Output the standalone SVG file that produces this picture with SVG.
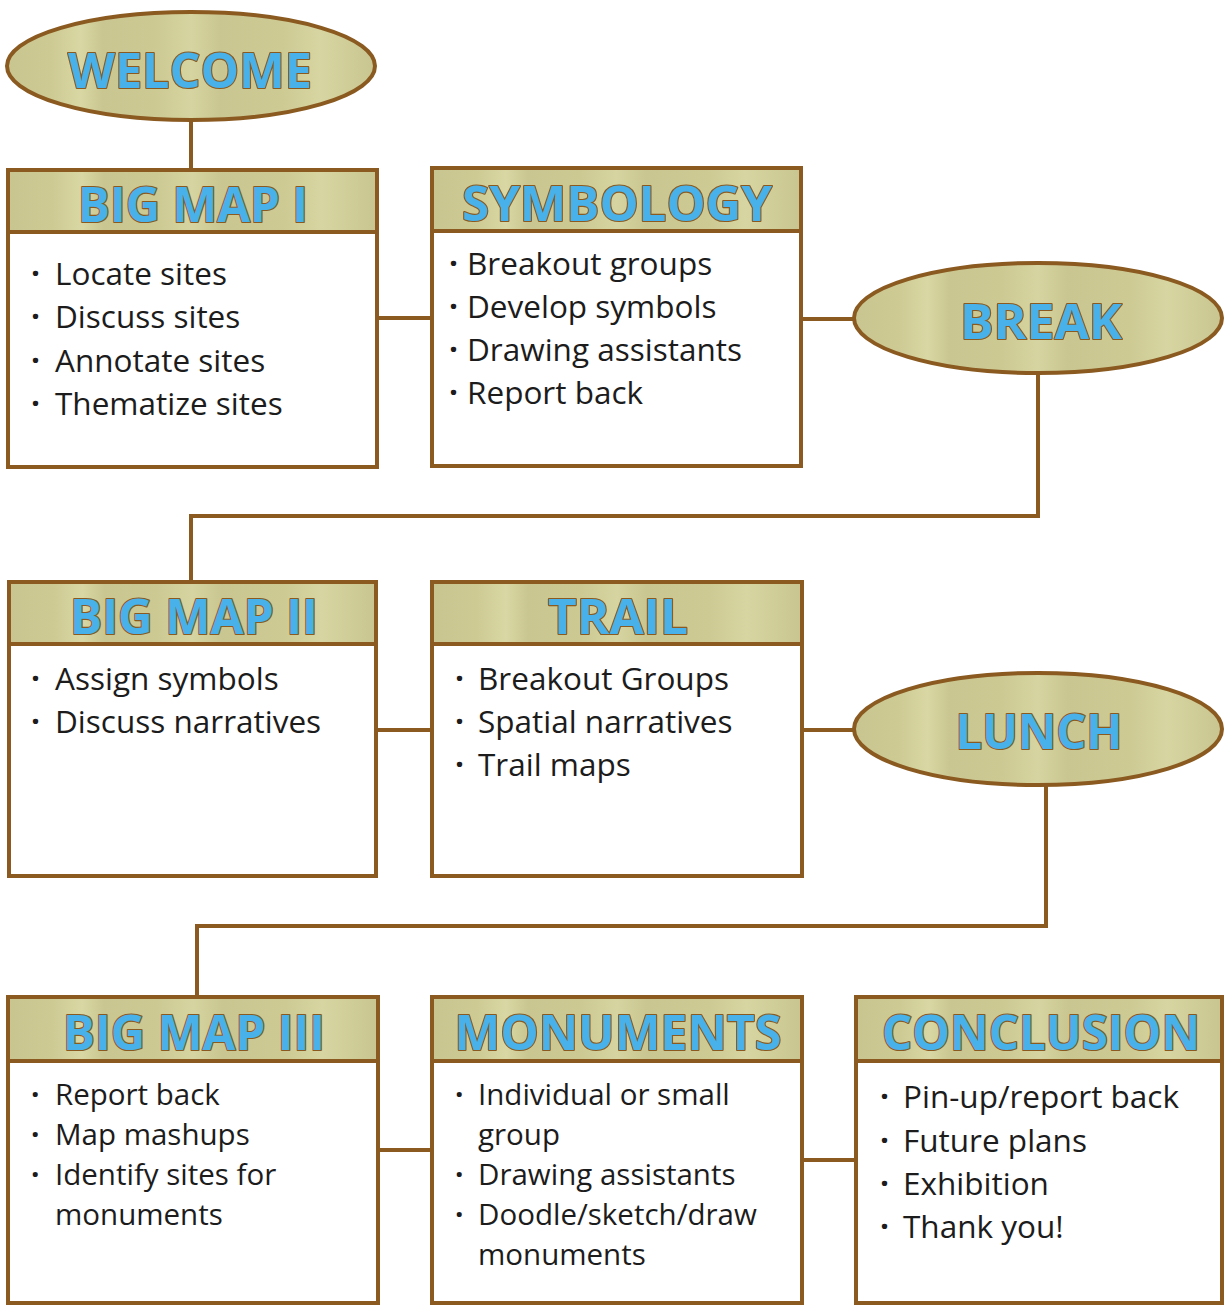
<svg xmlns="http://www.w3.org/2000/svg" width="1225" height="1307" viewBox="0 0 1225 1307">
<defs>
<linearGradient id="tex" x1="0" y1="0" x2="1" y2="0">
<stop offset="0" stop-color="#c8c590"/>
<stop offset="0.12" stop-color="#cdca94"/>
<stop offset="0.2" stop-color="#d9d7a3"/>
<stop offset="0.26" stop-color="#c9c691"/>
<stop offset="0.4" stop-color="#ccc993"/>
<stop offset="0.5" stop-color="#d6d4a0"/>
<stop offset="0.58" stop-color="#c9c691"/>
<stop offset="0.75" stop-color="#cdca94"/>
<stop offset="0.85" stop-color="#d7d5a1"/>
<stop offset="1" stop-color="#c8c590"/>
</linearGradient>
<style>
.frame{fill:#ffffff;stroke:#8a5a20;stroke-width:4}
.head{fill:url(#tex);stroke:#8a5a20;stroke-width:4}
.oval{fill:url(#tex);stroke:#8a5a20;stroke-width:4}
.title{font-family:"Open Sans","Noto Sans",sans-serif;font-weight:bold;font-size:48px;fill:#48b1e9;stroke:#8a5a20;stroke-width:2.2;paint-order:stroke;stroke-linejoin:round}
.body{font-family:"Open Sans","Noto Sans",sans-serif;font-size:31.5px;fill:#1c1c1c}
.small{font-size:29.5px}
.b{font-weight:bold}
.conn{fill:none;stroke:#8a5a20;stroke-width:4}
</style>
</defs>
<rect width="1225" height="1307" fill="#ffffff"/>

<g id="connectors">
<path class="conn" d="M191 120 V170"/>
<path class="conn" d="M377 318 H432"/>
<path class="conn" d="M801 319 H854"/>
<path class="conn" d="M1038 373 V516 H191 V582"/>
<path class="conn" d="M376 730 H432"/>
<path class="conn" d="M802 730 H854"/>
<path class="conn" d="M1046 785 V926 H197 V997"/>
<path class="conn" d="M378 1150 H432"/>
<path class="conn" d="M802 1160 H855"/>
</g>

<g id="welcome">
<ellipse class="oval" cx="191" cy="66" rx="184" ry="54"/>
<text class="title" x="190" y="88" text-anchor="middle" textLength="244" lengthAdjust="spacingAndGlyphs">WELCOME</text>
</g>

<g id="bigmap1">
<rect class="frame" x="8" y="170" width="369" height="297"/>
<rect class="head" x="8" y="170" width="369" height="62"/>
<text class="title" x="193" y="222" text-anchor="middle" textLength="230" lengthAdjust="spacingAndGlyphs">BIG MAP I</text>
<text class="body"><tspan class="b" x="31" y="285">·</tspan><tspan x="55" y="285">Locate sites</tspan><tspan class="b" x="31" y="328">·</tspan><tspan x="55" y="328">Discuss sites</tspan><tspan class="b" x="31" y="372">·</tspan><tspan x="55" y="372">Annotate sites</tspan><tspan class="b" x="31" y="415">·</tspan><tspan x="55" y="415">Thematize sites</tspan></text>
</g>

<g id="symbology">
<rect class="frame" x="432" y="168" width="369" height="298"/>
<rect class="head" x="432" y="168" width="369" height="63"/>
<text class="title" x="617" y="221" text-anchor="middle" textLength="310" lengthAdjust="spacingAndGlyphs">SYMBOLOGY</text>
<text class="body"><tspan class="b" x="449" y="275">·</tspan><tspan x="467" y="275">Breakout groups</tspan><tspan class="b" x="449" y="318">·</tspan><tspan x="467" y="318">Develop symbols</tspan><tspan class="b" x="449" y="361">·</tspan><tspan x="467" y="361">Drawing assistants</tspan><tspan class="b" x="449" y="404">·</tspan><tspan x="467" y="404">Report back</tspan></text>
</g>

<g id="break">
<ellipse class="oval" cx="1038" cy="318" rx="184" ry="55"/>
<text class="title" x="1041" y="339" text-anchor="middle" textLength="162" lengthAdjust="spacingAndGlyphs">BREAK</text>
</g>

<g id="bigmap2">
<rect class="frame" x="9" y="582" width="367" height="294"/>
<rect class="head" x="9" y="582" width="367" height="62"/>
<text class="title" x="194" y="634" text-anchor="middle" textLength="248" lengthAdjust="spacingAndGlyphs">BIG MAP II</text>
<text class="body"><tspan class="b" x="31" y="690">·</tspan><tspan x="55" y="690">Assign symbols</tspan><tspan class="b" x="31" y="733">·</tspan><tspan x="55" y="733">Discuss narratives</tspan></text>
</g>

<g id="trail">
<rect class="frame" x="432" y="582" width="370" height="294"/>
<rect class="head" x="432" y="582" width="370" height="62"/>
<text class="title" x="618" y="634" text-anchor="middle" textLength="140" lengthAdjust="spacingAndGlyphs">TRAIL</text>
<text class="body"><tspan class="b" x="455" y="690">·</tspan><tspan x="478" y="690">Breakout Groups</tspan><tspan class="b" x="455" y="733">·</tspan><tspan x="478" y="733">Spatial narratives</tspan><tspan class="b" x="455" y="776">·</tspan><tspan x="478" y="776">Trail maps</tspan></text>
</g>

<g id="lunch">
<ellipse class="oval" cx="1038" cy="729" rx="184" ry="56"/>
<text class="title" x="1039" y="749" text-anchor="middle" textLength="167" lengthAdjust="spacingAndGlyphs">LUNCH</text>
</g>

<g id="bigmap3">
<rect class="frame" x="8" y="997" width="370" height="306"/>
<rect class="head" x="8" y="997" width="370" height="64"/>
<text class="title" x="194" y="1050" text-anchor="middle" textLength="262" lengthAdjust="spacingAndGlyphs">BIG MAP III</text>
<text class="body small"><tspan class="b" x="31" y="1105">·</tspan><tspan x="55" y="1105">Report back</tspan><tspan class="b" x="31" y="1145">·</tspan><tspan x="55" y="1145">Map mashups</tspan><tspan class="b" x="31" y="1185">·</tspan><tspan x="55" y="1185">Identify sites for</tspan><tspan x="55" y="1225">monuments</tspan></text>
</g>

<g id="monuments">
<rect class="frame" x="432" y="997" width="370" height="306"/>
<rect class="head" x="432" y="997" width="370" height="64"/>
<text class="title" x="618" y="1050" text-anchor="middle" textLength="327" lengthAdjust="spacingAndGlyphs">MONUMENTS</text>
<text class="body small"><tspan class="b" x="455" y="1105">·</tspan><tspan x="478" y="1105">Individual or small</tspan><tspan x="478" y="1145">group</tspan><tspan class="b" x="455" y="1185">·</tspan><tspan x="478" y="1185">Drawing assistants</tspan><tspan class="b" x="455" y="1225">·</tspan><tspan x="478" y="1225">Doodle/sketch/draw</tspan><tspan x="478" y="1265">monuments</tspan></text>
</g>

<g id="conclusion">
<rect class="frame" x="856" y="997" width="366" height="306"/>
<rect class="head" x="856" y="997" width="366" height="64"/>
<text class="title" x="1041" y="1050" text-anchor="middle" textLength="318" lengthAdjust="spacingAndGlyphs">CONCLUSION</text>
<text class="body"><tspan class="b" x="880" y="1108">·</tspan><tspan x="903" y="1108">Pin-up/report back</tspan><tspan class="b" x="880" y="1152">·</tspan><tspan x="903" y="1152">Future plans</tspan><tspan class="b" x="880" y="1195">·</tspan><tspan x="903" y="1195">Exhibition</tspan><tspan class="b" x="880" y="1238">·</tspan><tspan x="903" y="1238">Thank you!</tspan></text>
</g>
</svg>
